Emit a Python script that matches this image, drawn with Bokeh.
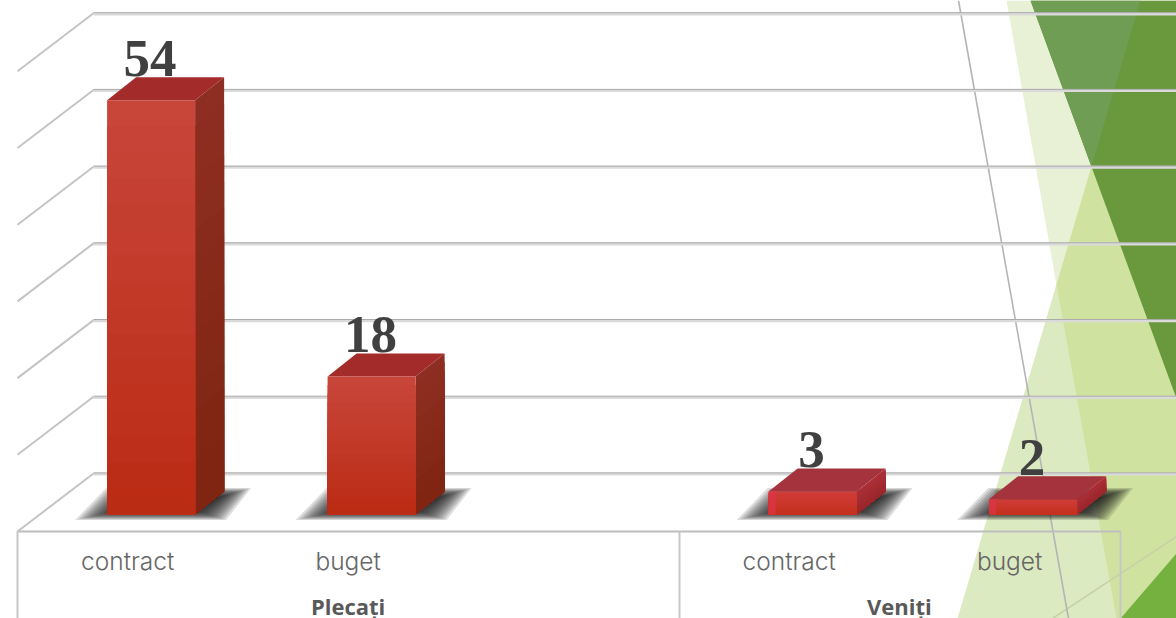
from bokeh.plotting import figure
from bokeh.models import Range1d
from bokeh.core.properties import value
from bokeh.embed import file_html
from bokeh.resources import INLINE

# ---- data ----
bar_slots = [0, 1, 3, 4]
categories = ["contract", "buget", "contract", "buget"]
values = [54, 18, 3, 2]
groups = ["Plecați", "Veniți"]
group_slots = [1, 3.5]
grid_values = [0, 10, 20, 30, 40, 50, 60]

# ---- geometry of the 3-D projection, in pixels ----
W, H = 1176, 618
X0, XSTEP = 150.6, 220.5      # bar centre of slot 0, slot pitch
Y0, YSTEP = 514.0, 7.67       # bar base, pixels per unit
BAR_W = 88 / XSTEP
DX, DY = 29 / XSTEP, 23 / YSTEP
BACK_X, BACK_Y = 93, 473      # back-wall floor corner
FRONT_X, FRONT_Y = 17, 531
LABEL_SHIFT = -23.5

p = figure(width=W, height=H, output_backend="svg", toolbar_location=None,
           x_range=Range1d(0, W), y_range=Range1d(H, 0),
           x_axis_location=None, y_axis_location=None,
           min_border=0, outline_line_color=None, background_fill_color="white",
           border_fill_color="white")
p.grid.visible = False
p.styles = {"position": "absolute", "left": "0px", "top": "0px"}
p.extra_x_ranges["slot"] = Range1d(-X0 / XSTEP, (W - X0) / XSTEP)
p.extra_y_ranges["val"] = Range1d((Y0 - H) / YSTEP, Y0 / YSTEP)

# ---- slide background facets (pixel space) ----
facets = [
    ([1140, 957, 1176, 1176], [0, 618, 618, 0], "#DCEAC1"),
    ([1006, 1140, 1056], [0, 0, 284], "#E8F0D6"),
    ([1056, 1140, 1176, 1176, 1116], [284, 0, 0, 618, 618], "#D0E2A0"),
    ([1030, 1176, 1176], [0, 398, 0], "#6A983D"),
    ([1030, 1140, 1091], [0, 0, 166], "#709D54"),
    ([1120, 1176, 1176], [618, 553, 618], "#74B13F"),
]
for fx, fy, fc in facets:
    p.patch(fx, fy, fill_color=fc, line_color=None)
p.line([1176, 1052], [536, 618], line_color="#C4D2A8", line_width=1.5)
p.line([958, 1068], [0, 618], line_color="#B4B4B4", line_width=1.6)

# ---- walls and floor ----
for v in grid_values:
    yb = v + (Y0 - BACK_Y) / YSTEP
    yf = yb - (FRONT_Y - BACK_Y) / YSTEP
    xb = (BACK_X - X0) / XSTEP
    xf = (FRONT_X - X0) / XSTEP
    xe = (W - X0) / XSTEP
    p.line([xb, xe], [yb - 0.08, yb - 0.08], x_range_name="slot", y_range_name="val",
           line_color="#DADADA", line_width=3)
    p.line([xb, xe], [yb + 0.08, yb + 0.08], x_range_name="slot", y_range_name="val",
           line_color="#ABABAB", line_width=1)
    p.line([xf, xb], [yf, yb], x_range_name="slot", y_range_name="val",
           line_color="#C4C4C4", line_width=2)

base_color = "#C6C6C6"
p.line([17, 1120], [531, 531], line_color="#BDBDBD", line_width=2)
for bx in (17, 679, 1120):
    p.line([bx, bx], [531, H], line_color=base_color, line_width=2)


def lerp(a, b, t):
    ca = [int(a[i:i + 2], 16) for i in (1, 3, 5)]
    cb = [int(b[i:i + 2], 16) for i in (1, 3, 5)]
    return "#%02X%02X%02X" % tuple(round(x + (y - x) * t) for x, y in zip(ca, cb))


# ---- soft shadows on the floor ----
for s, v in zip(bar_slots, values):
    cx = X0 + XSTEP * s
    for k in range(14):
        g = 5 - k * 1.1            # outset of this layer, px
        xs = [cx - 60 - g * 3.2, cx - 34 - g * 2.2, cx + 88 + g * 2.4, cx + 64 + g * 2.2]
        ys = [516 + g * 0.7, 491 - g * 0.7, 491 - g * 0.7, 516 + g * 0.7]
        p.patch(xs, ys, fill_color="#141414", fill_alpha=0.14, line_color=None)

# ---- bars ----
STRIPS = 16
for s, v in zip(bar_slots, values):
    tall = v > 10
    l, r = s - BAR_W / 2, s + BAR_W / 2
    ftop, fbot = ("#C8453A", "#BA2A12") if tall else ("#D03C38", "#C42F1C")
    stop, sbot = ("#8E2E22", "#7E2410") if tall else ("#AD2F38", "#99262A")
    ttop = "#A32C2A" if tall else "#A5333E"

    # side face, shaded from the top down
    for i in range(STRIPS):
        t = i / STRIPS
        vv = v * (1 - t)
        p.patch([r, r + DX, r + DX, r], [vv, vv + DY, DY, 0],
                x_range_name="slot", y_range_name="val",
                fill_color=lerp(stop, sbot, t), line_color=None)
    # top face
    p.patch([l, l + DX, r + DX, r], [v, v + DY, v + DY, v],
            x_range_name="slot", y_range_name="val",
            fill_color=ttop, line_color=None)
    # front face
    for i in range(STRIPS):
        t = i / STRIPS
        vv = v * (1 - t)
        p.quad(left=l, right=r, top=vv, bottom=0,
               x_range_name="slot", y_range_name="val",
               fill_color=lerp(ftop, fbot, t), line_color=None)
    if not tall:
        p.quad(left=l, right=l + 7 / XSTEP, top=v, bottom=0,
               x_range_name="slot", y_range_name="val",
               fill_color="#E0334A", fill_alpha=0.7, line_color=None)

# ---- texts (SVG alphabetic baseline sits low, hence the y offsets) ----
p.text(x=[s - 1 / XSTEP for s in bar_slots], y=[v + DY for v in values], text=[str(v) for v in values],
       x_range_name="slot", y_range_name="val", y_offset=-19,
       text_font=value("Liberation Serif"), text_font_style="bold", text_font_size="53px",
       text_color="#404040", text_align="center", text_baseline="alphabetic")

p.text(x=bar_slots, y=[(Y0 - 569) / YSTEP] * len(bar_slots), text=categories,
       x_range_name="slot", y_range_name="val", x_offset=LABEL_SHIFT, y_offset=-9,
       text_font=value("Inter Light"), text_font_size="24.5px",
       text_color="#666666", text_align="center", text_baseline="alphabetic")

p.text(x=group_slots, y=[(Y0 - 613) / YSTEP] * len(groups), text=groups,
       x_range_name="slot", y_range_name="val", x_offset=LABEL_SHIFT, y_offset=-8,
       text_font=value("Open Sans"), text_font_style="bold", text_font_size="22px",
       text_color="#595959", text_align="center", text_baseline="alphabetic")

open("out.html", "w").write(file_html(p, INLINE))
